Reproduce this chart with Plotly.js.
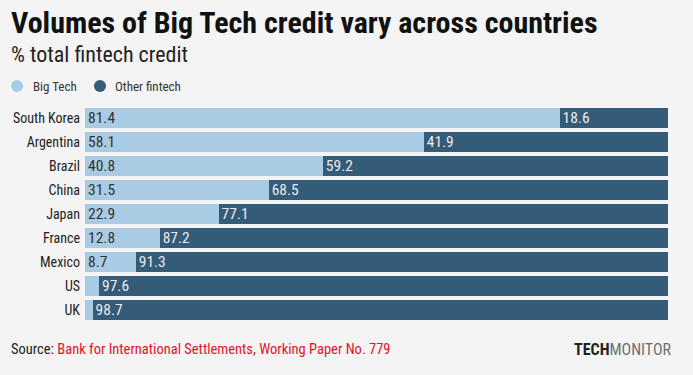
<!DOCTYPE html>
<html><head><meta charset="utf-8">
<script src="https://cdn.plot.ly/plotly-3.0.1.min.js"></script>
<style>html,body{margin:0;padding:0;background:#f4f4f4;}#chart{width:693px;height:375px;}</style>
</head><body><div id="chart"></div>
<script>
var countries = ["South Korea","Argentina","Brazil","China","Japan","France","Mexico","US","UK"];
var bigTech = [81.4,58.1,40.8,31.5,22.9,12.8,8.7,2.4,1.3];
var otherFintech = [18.6,41.9,59.2,68.5,77.1,87.2,91.3,97.6,98.7];

var FONT = '"Roboto Condensed", "Liberation Sans Narrow", Roboto, sans-serif';
var LIGHT = '#a9cbe4', DARK = '#345b78';
function lbl(v){ return v >= 5 ? v.toFixed(1) : ''; }

var traces = [
  {type:'bar', orientation:'h', y:countries, x:bigTech, name:'Big Tech', showlegend:false,
   marker:{color:LIGHT}, text:bigTech.map(lbl), textposition:'inside', insidetextanchor:'start',
   textfont:{family:FONT, size:15.5, color:'#333333'}, hoverinfo:'x+y'},
  {type:'bar', orientation:'h', y:countries, x:otherFintech, name:'Other fintech', showlegend:false,
   marker:{color:DARK}, text:otherFintech.map(lbl), textposition:'inside', insidetextanchor:'start',
   textfont:{family:FONT, size:15.5, color:'#ececec'}, hoverinfo:'x+y'}
];

var W = 693, H = 375, L = 85, R = 25, T = 106, B = 53;
var pw = W - L - R, ph = H - T - B;
function px(x){ return (x - L) / pw; }
function py(y){ return 1 - (y - T) / ph; }

var layout = {
  width:W, height:H,
  margin:{l:L, r:R, t:T, b:B, pad:0},
  paper_bgcolor:'#f4f4f4', plot_bgcolor:'#f4f4f4',
  barmode:'stack', bargap:0.167,
  font:{family:FONT, color:'#222222'},
  showlegend:false,
  uniformtext:{mode:'show', minsize:15.5},
  xaxis:{range:[0,100], visible:false, fixedrange:true},
  yaxis:{autorange:'reversed', showgrid:false, zeroline:false, showline:false, ticks:'',
         ticklabelstandoff:4, tickfont:{family:FONT, size:14, color:'#222222'}, fixedrange:true},
  shapes:[
    {type:'circle', xref:'paper', yref:'paper', x0:px(11), x1:px(23), y0:py(80), y1:py(92), fillcolor:LIGHT, line:{width:0}},
    {type:'circle', xref:'paper', yref:'paper', x0:px(94), x1:px(106), y0:py(80), y1:py(92), fillcolor:DARK, line:{width:0}}
  ],
  annotations:[
    {xref:'paper', yref:'paper', x:px(9), y:py(22), xanchor:'left', yanchor:'middle', showarrow:false,
     text:'<b>Volumes of Big Tech credit vary across countries</b>', font:{family:FONT, size:30, color:'#111111'}},
    {xref:'paper', yref:'paper', x:px(9), y:py(55), xanchor:'left', yanchor:'middle', showarrow:false,
     text:'% total fintech credit', font:{family:FONT, size:22, color:'#222222'}},
    {xref:'paper', yref:'paper', x:px(31), y:py(86), xanchor:'left', yanchor:'middle', showarrow:false,
     text:'Big Tech', font:{family:FONT, size:13, color:'#333333'}},
    {xref:'paper', yref:'paper', x:px(113), y:py(86), xanchor:'left', yanchor:'middle', showarrow:false,
     text:'Other fintech', font:{family:FONT, size:13, color:'#333333'}},
    {xref:'paper', yref:'paper', x:px(9), y:py(349), xanchor:'left', yanchor:'middle', showarrow:false,
     text:'Source: <span style="color:#e0142b">Bank for International Settlements, Working Paper No. 779</span>',
     font:{family:FONT, size:14.5, color:'#222222'}},
    {xref:'paper', yref:'paper', x:px(674), y:py(349), xanchor:'right', yanchor:'middle', showarrow:false,
     text:'<b>TECH</b><span style="color:#6f6f6f">MONITOR</span>',
     font:{family:FONT, size:16, color:'#222222'}}
  ]
};

Plotly.newPlot('chart', traces, layout, {displayModeBar:false, staticPlot:true});
</script>
</body></html>
